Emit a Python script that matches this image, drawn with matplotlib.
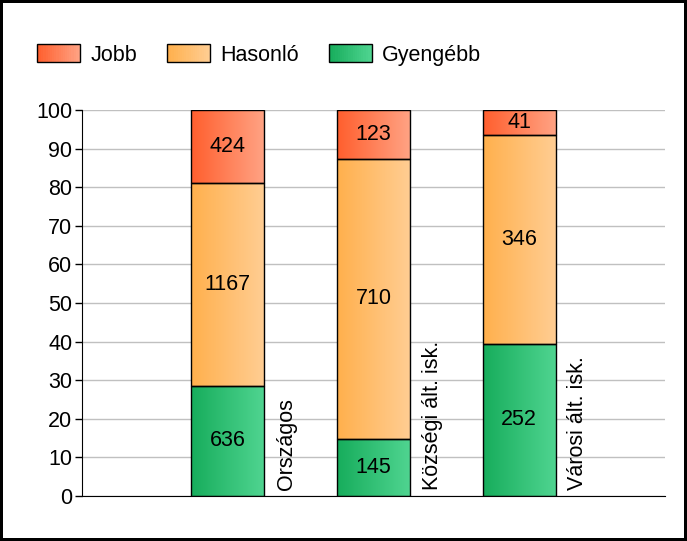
import numpy as np
import matplotlib.pyplot as plt
from matplotlib.patches import Rectangle
from matplotlib.legend_handler import HandlerBase
from matplotlib.colors import LinearSegmentedColormap

plt.rcParams['font.family'] = ['Liberation Sans', 'DejaVu Sans']

categories = ['Országos', 'Községi ált. isk.', 'Városi ált. isk.']
series = ['Gyengébb', 'Hasonló', 'Jobb']
gyengebb = [636, 145, 252]
hasonlo = [1167, 710, 346]
jobb = [424, 123, 41]

# left -> right gradient colours
grad = {
    'Jobb': ('#ff5f2e', '#ffa283'),
    'Hasonló': ('#ffb04d', '#ffcd92'),
    'Gyengébb': ('#17ad5c', '#4fd490'),
}
FS = 15.5


class GradHandler(HandlerBase):
    def __init__(self, c1, c2):
        super().__init__()
        self.cmap = LinearSegmentedColormap.from_list('g', [c1, c2])

    def create_artists(self, legend, orig, xd, yd, w, h, fs, trans):
        arts = []
        n = 20
        for i in range(n):
            r = Rectangle((-xd + w * i / n, -yd), w / n + 0.3, h,
                          facecolor=self.cmap(i / (n - 1)), edgecolor='none',
                          transform=trans)
            arts.append(r)
        arts.append(Rectangle((-xd, -yd), w, h, facecolor='none',
                              edgecolor='black', linewidth=1, transform=trans))
        return arts


fig = plt.figure(figsize=(6.87, 5.41), dpi=100, edgecolor='black', linewidth=3)
ax = fig.add_axes([82 / 687, 45 / 541, 583 / 687, 386 / 541])

data = {'Gyengébb': np.array(gyengebb), 'Hasonló': np.array(hasonlo), 'Jobb': np.array(jobb)}
totals = sum(data.values())
x = np.arange(1, len(categories) + 1)
bottom = np.zeros(len(categories))
gx = np.linspace(0, 1, 64).reshape(1, -1)

for s in series:
    pct = data[s] / totals * 100
    bars = ax.bar(x, pct, width=0.5, bottom=bottom, facecolor='none',
                  edgecolor='black', linewidth=1, zorder=3)
    cmap = LinearSegmentedColormap.from_list(s, grad[s])
    for b, v in zip(bars, data[s]):
        x0, y0 = b.get_x(), b.get_y()
        ax.imshow(gx, cmap=cmap, aspect='auto', zorder=2,
                  extent=(x0, x0 + b.get_width(), y0, y0 + b.get_height()))
        ax.text(x0 + b.get_width() / 2, y0 + b.get_height() / 2, str(v),
                ha='center', va='center', fontsize=FS, zorder=4)
    bottom += pct

for xi, c in zip(x, categories):
    ax.text(xi + 0.33, 1.5, c, rotation=90, ha='left', va='bottom', fontsize=FS)

ax.set_xlim(0, 4)
ax.set_ylim(0, 100)
ax.set_yticks(range(0, 101, 10))
ax.set_xticks([])
ax.tick_params(axis='y', labelsize=FS, length=5, width=1, pad=2)
ax.yaxis.grid(True, color='#c0c0c0', linewidth=1)
ax.set_axisbelow(True)
for sp in ['top', 'right']:
    ax.spines[sp].set_visible(False)

handles = [Rectangle((0, 0), 1, 1, label=s) for s in ['Jobb', 'Hasonló', 'Gyengébb']]
hmap = {h: GradHandler(*grad[h.get_label()]) for h in handles}
fig.legend(handles=handles, handler_map=hmap, loc='center left',
           bbox_to_anchor=(37 / 687, 1 - 55 / 541), ncol=3, frameon=False,
           borderpad=0, borderaxespad=0,
           fontsize=FS, handlelength=2.0, handleheight=0.9,
           handletextpad=0.47, columnspacing=1.4)

fig.savefig('out.png', dpi=100)
